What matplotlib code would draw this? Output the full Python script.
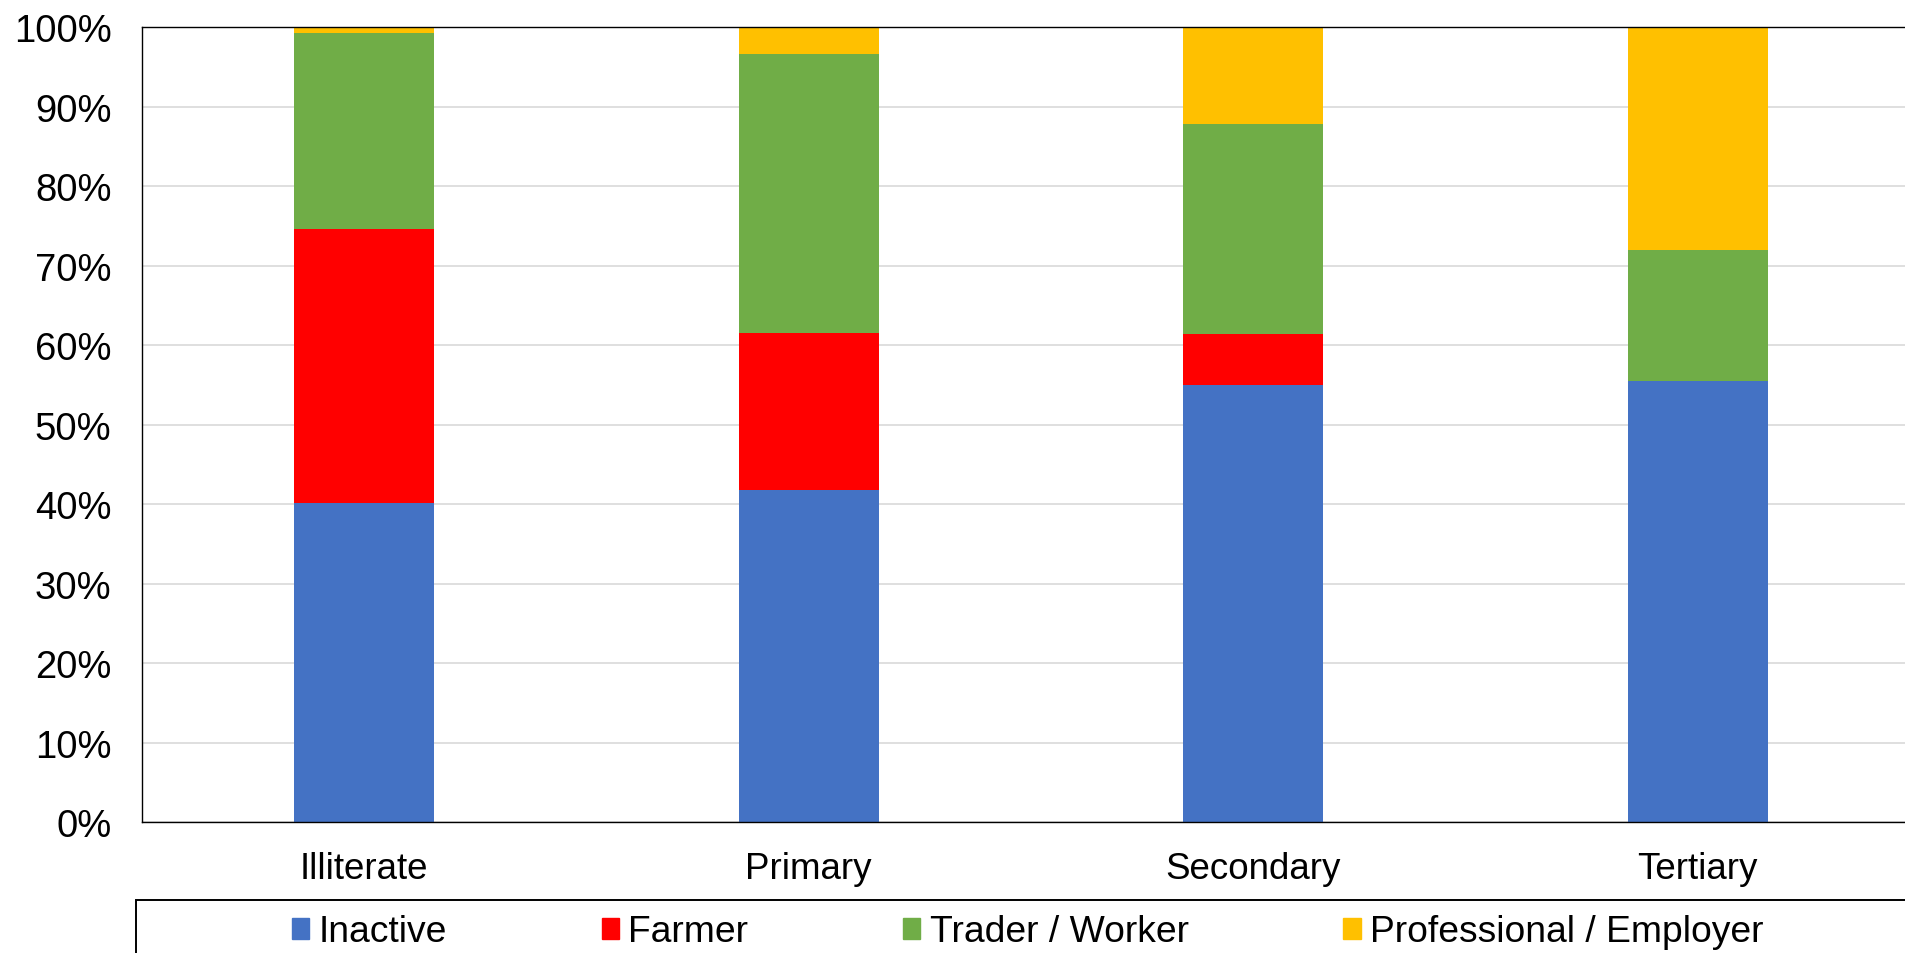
import matplotlib.pyplot as plt
import matplotlib.patches as mpatches
import numpy as np
from matplotlib.ticker import PercentFormatter

plt.rcParams['font.family'] = ['Liberation Sans', 'DejaVu Sans']

# data (shares in %)
levels = ['Illiterate', 'Primary', 'Secondary', 'Tertiary']
series = ['Inactive', 'Farmer', 'Trader / Worker', 'Professional / Employer']
inactive = [40.1, 41.8, 55.0, 55.5]
farmer = [34.5, 19.7, 6.4, 0.0]
trader = [24.7, 35.1, 26.4, 16.5]
professional = [0.7, 3.4, 12.2, 28.0]
colors = ['#4472C4', '#FF0000', '#70AD47', '#FFC000']

W, H = 1906, 954
fig = plt.figure(figsize=(W / 100, H / 100), dpi=100)
ax = fig.add_axes([142 / W, 1 - 823.3 / H, 1778 / W, 795.3 / H])

x = np.arange(len(levels))
bottom = np.zeros(len(levels))
handles = []
for name, vals, c in zip(series, [inactive, farmer, trader, professional], colors):
    ax.bar(x, vals, width=0.315, bottom=bottom, color=c, linewidth=0, zorder=2)
    bottom += np.array(vals)
    handles.append(mpatches.Patch(color=c, label=name))

ax.set_xlim(-0.5, 3.5)
ax.set_ylim(0, 100)
ax.set_yticks(np.arange(0, 101, 10))
ax.yaxis.set_major_formatter(PercentFormatter(decimals=0))
ax.set_xticks(x)
ax.set_xticklabels(levels)
ax.tick_params(axis='x', length=0, labelsize=26.5, pad=21)
ax.tick_params(axis='y', length=0, labelsize=27.5, pad=22)
ax.grid(axis='y', color='#d9d9d9', linewidth=1.2, zorder=0)
ax.set_axisbelow(True)
for s in ['left', 'bottom', 'top', 'right']:
    ax.spines[s].set_color('black')
    ax.spines[s].set_linewidth(1.0)

# legend frame, partly cut off by the figure edge as in the original
frame = mpatches.Rectangle((136 / W, -0.2), 1.0, 0.2 + 53 / H, transform=fig.transFigure,
                           fill=False, edgecolor='black', linewidth=1.4)
fig.patches.append(frame)

fig.legend(handles=handles, loc='center left', bbox_to_anchor=(292 / W, 1 - 933 / H),
           ncol=4, frameon=False, fontsize=26.8, handlelength=0.47, handleheight=0.47,
           handletextpad=0.25, columnspacing=4.15, borderpad=0, borderaxespad=0)

fig.savefig('out.png', dpi=100)
